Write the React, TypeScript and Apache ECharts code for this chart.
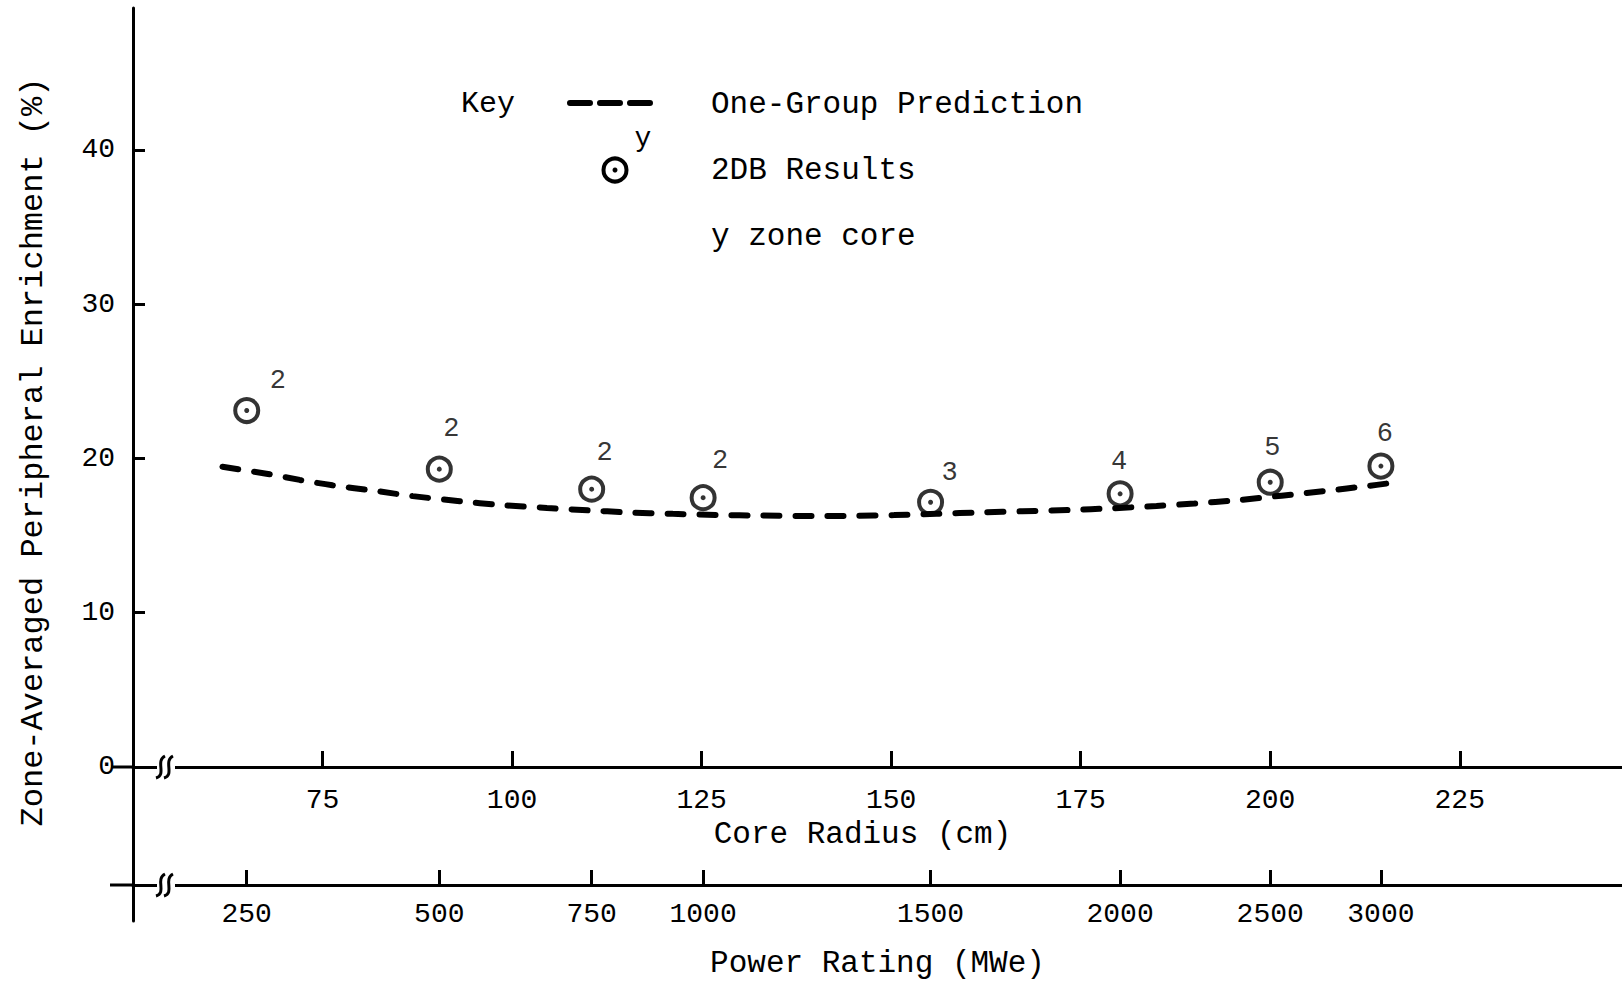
import React, { useEffect, useRef } from "react";
import * as echarts from "echarts";

// ---- data ----
const coreRadiusTicks = [75, 100, 125, 150, 175, 200, 225];
const powerRatings = [250, 500, 750, 1000, 1500, 2000, 2500, 3000];
// core radius (cm) of each design / power rating
const designRadii = [65, 90.4, 110.5, 125.2, 155.2, 180.2, 200, 214.6];
// 2DB results: zone-averaged peripheral enrichment (%)
const results2DB = [23.1, 19.3, 18.0, 17.45, 17.15, 17.7, 18.45, 19.5];
// number of zones in each core
const zoneCounts = [2, 2, 2, 2, 3, 4, 5, 6];
// one-group prediction curve
const predictionRadii = [61.8, 67.6, 72, 76.3, 82.1, 86.9, 93.1, 98.4, 104.6, 110, 115.1, 121.2, 127, 133, 139.6, 144.9, 150.4, 156, 162, 167.3, 173.5, 179.2, 185, 190, 195.5, 201.5, 207.1, 213.1, 215.3];
const predictionValues = [19.45, 19.0, 18.6, 18.25, 17.88, 17.55, 17.22, 16.98, 16.78, 16.63, 16.5, 16.4, 16.33, 16.29, 16.26, 16.27, 16.32, 16.4, 16.5, 16.57, 16.65, 16.76, 16.91, 17.07, 17.28, 17.58, 17.88, 18.22, 18.36];
const yTickValues = [10, 20, 30, 40];
const yLabelValues = [0, 10, 20, 30, 40];
const Y_MIN = -10;
const Y_MAX = 49.2;

// ---- styling (not data) ----
const zoneLabelOffsets = [[31, -30], [12, -40], [13, -36], [17, -37], [19, -29], [-1, -32], [2, -34], [4, -32]];
const FONT = "'Liberation Mono', 'DejaVu Sans Mono', monospace";
const INK = "#000";
const GRID_TOP = 8;
const GRID_BOTTOM = 63;
const CHART_H = 984;

export default function App() {
  const ref = useRef<HTMLDivElement>(null);

  useEffect(() => {
    document.body.style.margin = "0";
    const el = ref.current!;
    const chart = echarts.init(el, null, { renderer: "svg" });

    const axisLine = { lineStyle: { color: INK, width: 3 } };
    const tickStyle = { color: INK, width: 3 };

    // place the core-radius axis on the value 0 of the y axis
    const gridH = CHART_H - GRID_TOP - GRID_BOTTOM;
    const zeroOffset = -Math.round(((0 - Y_MIN) / (Y_MAX - Y_MIN)) * gridH);

    const option: any = {
      animation: false,
      backgroundColor: "#fff",
      grid: { left: 133, right: 0, top: GRID_TOP, bottom: GRID_BOTTOM, containLabel: false, outerBoundsMode: "none" },
      xAxis: [
        {
          type: "value",
          min: 50,
          max: 246.4,
          interval: 25,
          position: "bottom",
          offset: zeroOffset,
          axisLine: { show: true, onZero: false, ...axisLine },
          axisTick: { show: true, inside: true, length: 16, customValues: coreRadiusTicks, lineStyle: tickStyle },
          axisLabel: { show: true, customValues: coreRadiusTicks, margin: 19, color: INK, fontFamily: FONT, fontSize: 28 },
          splitLine: { show: false },
          name: "Core Radius (cm)",
          nameLocation: "middle",
          nameGap: 50,
          nameTextStyle: { color: INK, fontFamily: FONT, fontSize: 31, padding: [0, 30, 0, 0] },
        },
        {
          type: "value",
          min: 50,
          max: 246.4,
          position: "bottom",
          offset: -36,
          axisLine: { show: true, onZero: false, ...axisLine },
          axisTick: { show: true, inside: true, length: 15, customValues: designRadii, lineStyle: tickStyle },
          axisLabel: {
            show: true,
            customValues: designRadii,
            margin: 15,
            color: INK,
            fontFamily: FONT,
            fontSize: 28,
            formatter: (v: number) => {
              let best = 0;
              for (let i = 1; i < designRadii.length; i++) {
                if (Math.abs(designRadii[i] - v) < Math.abs(designRadii[best] - v)) best = i;
              }
              return String(powerRatings[best]);
            },
          },
          splitLine: { show: false },
          name: "Power Rating (MWe)",
          nameLocation: "middle",
          nameGap: 63,
          nameTextStyle: { color: INK, fontFamily: FONT, fontSize: 31 },
        },
      ],
      yAxis: {
        type: "value",
        min: Y_MIN,
        max: Y_MAX,
        interval: 10,
        axisLine: { show: true, onZero: false, ...axisLine },
        axisTick: { show: true, inside: true, length: 12, customValues: yTickValues, lineStyle: tickStyle },
        axisLabel: { show: true, customValues: yLabelValues, margin: 18, color: INK, fontFamily: FONT, fontSize: 28 },
        splitLine: { show: false },
      },
      series: [
        {
          name: "One-Group Prediction",
          type: "line",
          xAxisIndex: 0,
          data: predictionRadii.map((r, i) => [r, predictionValues[i]]),
          smooth: 0.3,
          showSymbol: false,
          symbol: "none",
          lineStyle: { color: INK, width: 6, type: [16, 16], cap: "round" },
          z: 2,
          silent: true,
        },
        {
          name: "2DB Results",
          type: "scatter",
          xAxisIndex: 0,
          data: designRadii.map((r, i) => ({
            value: [r, results2DB[i]],
            label: { offset: zoneLabelOffsets[i] },
          })),
          symbol: "circle",
          symbolSize: 23,
          itemStyle: { color: "rgba(0,0,0,0)", borderColor: INK, borderWidth: 4 },
          label: {
            show: true,
            position: "inside",
            formatter: (p: any) => String(zoneCounts[p.dataIndex]),
            color: INK,
            fontFamily: FONT,
            fontSize: 27,
          },
          z: 3,
          silent: true,
        },
        {
          name: "2DB centre",
          type: "scatter",
          xAxisIndex: 0,
          data: designRadii.map((r, i) => [r, results2DB[i]]),
          symbol: "circle",
          symbolSize: 5,
          itemStyle: { color: INK },
          z: 4,
          silent: true,
        },
      ],
    };

    chart.setOption(option);

    const origin = chart.convertToPixel({ xAxisIndex: 0, yAxisIndex: 0 }, [50, 0]) as number[];
    const bottom = chart.convertToPixel({ xAxisIndex: 0, yAxisIndex: 0 }, [50, Y_MIN]) as number[];
    const x0 = origin[0];
    const yA = bottom[1] + zeroOffset;
    const yB = bottom[1] - 36;

    const breakMark = (cx: number, cy: number) => [
      { type: "rect", z: 50, shape: { x: cx - 9, y: cy - 3, width: 18, height: 6 }, style: { fill: "#fff" } },
      {
        type: "bezierCurve", z: 51,
        shape: { x1: cx - 10, y1: cy + 11, cpx1: cx + 1, cpy1: cy + 8, cpx2: cx - 11, cpy2: cy - 6, x2: cx - 1, y2: cy - 11 },
        style: { stroke: INK, lineWidth: 3, fill: null },
      },
      {
        type: "bezierCurve", z: 51,
        shape: { x1: cx - 2, y1: cy + 11, cpx1: cx + 9, cpy1: cy + 8, cpx2: cx - 3, cpy2: cy - 6, x2: cx + 7, y2: cy - 11 },
        style: { stroke: INK, lineWidth: 3, fill: null },
      },
    ];

    const txt = (text: string, x: number, y: number, size: number, align = "left") => ({
      type: "text", z: 50, x, y,
      style: { text, fill: INK, font: `${size}px ${FONT}`, align, verticalAlign: "middle", textAlign: align, textVerticalAlign: "middle" },
    });

    chart.setOption({
      graphic: [
        { type: "line", z: 49, shape: { x1: x0 - 22, y1: yA, x2: x0, y2: yA }, style: { stroke: INK, lineWidth: 3 } },
        { type: "line", z: 49, shape: { x1: x0 - 23, y1: yB, x2: x0, y2: yB }, style: { stroke: INK, lineWidth: 3 } },
        ...breakMark(x0 + 33, yA),
        ...breakMark(x0 + 33, yB),
        {
          type: "text", z: 50, x: 33, y: 452, rotation: Math.PI / 2,
          style: {
            text: "Zone-Averaged Peripheral Enrichment (%)", fill: INK, font: `32px ${FONT}`,
            align: "center", verticalAlign: "middle", textAlign: "center", textVerticalAlign: "middle",
          },
        },
        txt("Key", 488, 104, 30, "center"),
        { type: "line", z: 50, shape: { x1: 570, y1: 103, x2: 658, y2: 103 }, style: { stroke: INK, lineWidth: 6, lineDash: [20, 10], lineCap: "round" } },
        txt("One-Group Prediction", 711, 104, 31),
        { type: "circle", z: 50, shape: { cx: 615, cy: 170, r: 11.5 }, style: { stroke: INK, lineWidth: 4, fill: null } },
        { type: "circle", z: 51, shape: { cx: 615, cy: 170, r: 2.5 }, style: { fill: INK } },
        txt("y", 643, 138, 28, "center"),
        txt("2DB Results", 711, 170, 31),
        txt("y zone core", 711, 236, 31),
      ],
    });

    return () => chart.dispose();
  }, []);

  return <div ref={ref} style={{ width: 1622, height: 984 }} />;
}
